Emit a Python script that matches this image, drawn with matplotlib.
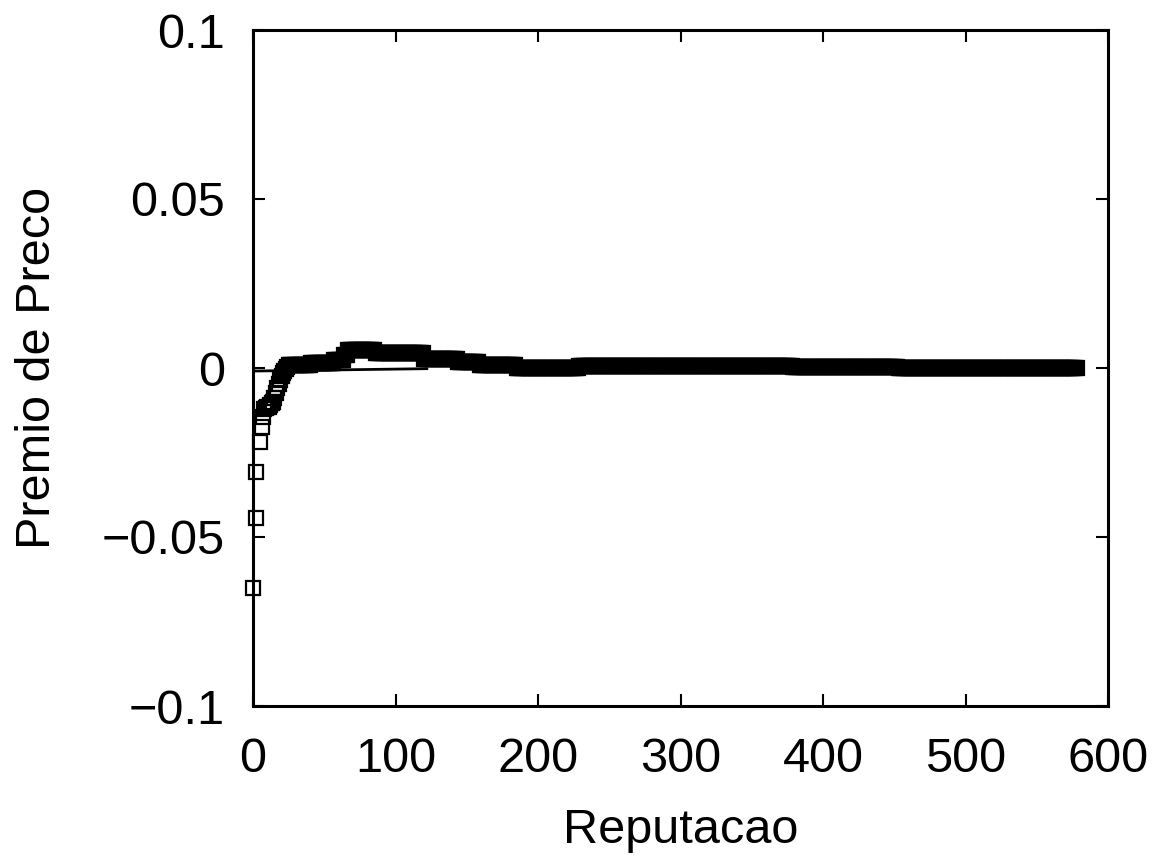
import numpy as np
import matplotlib
matplotlib.use("Agg")
import matplotlib.pyplot as plt

plt.rcParams['font.family'] = ['Liberation Sans', 'DejaVu Sans']

# first points, read one by one
early_x = [0, 2, 2.3, 5, 6, 7, 8, 9, 10, 11, 12, 13, 14, 15, 16, 17, 18, 19, 20, 21, 22, 23, 24]
early_y = [-0.065, -0.0444, -0.0308, -0.0219, -0.0175, -0.0145, -0.012, -0.0118, -0.0115,
           -0.0115, -0.011, -0.0105, -0.01, -0.009, -0.0075, -0.006, -0.0048, -0.0035,
           -0.0025, -0.0015, -0.0008, -0.0003, 0.0002]

# flat runs of the dense band (one point per reputation unit)
run_start = [25, 41, 57, 64, 67, 86, 120, 144, 159, 185, 229, 257, 379, 453]
run_end = [40, 56, 63, 66, 85, 119, 143, 158, 184, 228, 256, 378, 452, 578]
run_level = [0.0008, 0.0015, 0.0025, 0.0038, 0.0053, 0.0043, 0.0028, 0.0019, 0.0009,
             0.0, 0.0005, 0.0007, 0.0004, -0.0001]

# thin line near zero at the start
line_x = [0, 122]
line_y = [-0.0009, -0.0002]

xticks = [0, 100, 200, 300, 400, 500, 600]
yticks = [-0.1, -0.05, 0, 0.05, 0.1]
ytick_labels = ['\u22120.1', '\u22120.05', '0', '0.05', '0.1']

xs = list(early_x)
ys = list(early_y)
for s, e, v in zip(run_start, run_end, run_level):
    pts = np.arange(s, e + 1)
    xs.extend(pts)
    ys.extend([v] * len(pts))

fig = plt.figure(figsize=(11.59, 8.58), dpi=100)
ax = fig.add_axes([253 / 1159, 1 - 706 / 858, 855 / 1159, 676 / 858])

ax.plot(line_x, line_y, color='black', lw=2)
ax.plot(xs, ys, ls='none', marker='s', ms=9.5, mfc='none', mec='black', mew=1.6,
        clip_on=False)

ax.set_xlim(0, 600)
ax.set_ylim(-0.1, 0.1)
ax.set_xticks(xticks)
ax.set_xticklabels([str(t) for t in xticks])
ax.set_yticks(yticks)
ax.set_yticklabels(ytick_labels)

for sp in ax.spines.values():
    sp.set_linewidth(2.2)
ax.tick_params(direction='in', length=8.5, width=1.5, top=True, right=True,
               labelsize=35, pad=22)
ax.tick_params(axis='y', pad=20)

ax.set_xlabel('Reputacao', fontsize=35, labelpad=19)
ax.set_ylabel('Premio de Preco', fontsize=35, labelpad=30)

fig.savefig('out.png', dpi=100)
